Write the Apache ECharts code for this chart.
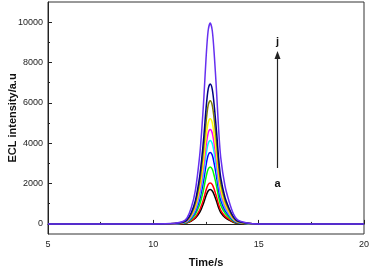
<!DOCTYPE html>
<html>
<head>
<meta charset="utf-8">
<script src="https://cdn.jsdelivr.net/npm/echarts@6/dist/echarts.min.js"></script>
<style>html,body{margin:0;padding:0;background:#fff}#c{width:370px;height:268px}</style>
</head>
<body>
<div id="c"></div>
<script>
// Time axis (s)
var times = [5,6,7,8,9,10,11,11.4,11.6,11.8,12.0,12.2,12.3,12.4,12.5,12.6,12.7,12.8,12.9,13.0,13.1,13.2,13.4,13.6,13.8,14.0,14.4,15,16,17,18,19,20];
var seriesNames = ['a','b','c','d','e','f','g','h','i','j'];
var colors = ['#000000','#ff0000','#00ff00','#0000ff','#00ffff','#ff00ff','#ffff00','#808000','#000080','#6630f0'];
var sA = [0,0,0,0,0,0,5,20,51,136,289,578,799,1071,1394,1632,1700,1632,1411,1122,799,561,323,187,85,34,10,0,0,0,0,0,0];
var sB = [0,0,0,0,0,0,6,24,61,162,345,690,954,1279,1665,1949,2030,1949,1685,1340,954,670,386,223,102,41,12,0,0,0,0,0,0];
var sC = [0,0,0,0,0,0,8,34,85,226,479,959,1325,1777,2312,2707,2820,2707,2341,1861,1325,931,536,310,141,56,17,0,0,0,0,0,0];
var sD = [0,0,0,0,0,0,11,42,106,283,602,1204,1664,2230,2903,3398,3540,3398,2938,2336,1664,1168,673,389,177,71,21,0,0,0,0,0,0];
var sE = [0,0,0,0,0,0,12,50,124,331,704,1408,1946,2608,3395,3974,4140,3974,3436,2732,1946,1366,787,455,207,83,25,0,0,0,0,0,0];
var sF = [0,0,0,0,0,0,14,56,140,374,796,1591,2200,2948,3838,4493,4680,4493,3884,3089,2200,1544,889,515,234,94,28,0,0,0,0,0,0];
var sG = [0,0,0,0,0,0,16,63,156,417,886,1771,2449,3282,4272,5002,5210,5002,4324,3439,2449,1719,990,573,261,104,31,0,0,0,0,0,0];
var sH = [0,0,0,0,0,0,18,73,183,489,1039,2077,2872,3849,5010,5866,6110,5866,5071,4033,2872,2016,1161,672,306,122,37,0,0,0,0,0,0];
var sI = [0,0,0,0,0,0,21,83,208,555,1180,2360,3262,4372,5691,6662,6940,6662,5760,4580,3262,2290,1319,763,347,139,42,0,0,0,0,0,0];
var sJ = [0,0,0,0,0,0,30,120,299,797,1693,3386,4681,6275,8167,9562,9960,9562,8267,6574,4681,3287,1892,1096,498,199,60,0,0,0,0,0,0];
var allSeries = [sA,sB,sC,sD,sE,sF,sG,sH,sI,sJ];
var yLabelValues = [0,2000,4000,6000,8000,10000];
var yMinorValues = [1000,3000,5000,7000,9000];
var xLabelValues = [5,10,15,20];
var xMinorValues = [7.5,12.5,17.5];

var chart = echarts.init(document.getElementById('c'), null, {renderer:'canvas'});
var font = 'Liberation Sans, Arial, sans-serif';
var series = allSeries.map(function(vals, k){
  return {
    name: seriesNames[k], type:'line', xAxisIndex:0, yAxisIndex:0,
    data: times.map(function(t,i){return [t, vals[i]];}),
    showSymbol:false, smooth:0.3, lineStyle:{color:colors[k], width:1.5}, itemStyle:{color:colors[k]},
    animation:false, z: 2+k
  };
});
var plain = function(v){ return String(v); };
chart.setOption({
  animation:false,
  grid:[{show:true, left:48, right:6, top:2, bottom:34, containLabel:false, outerBoundsMode:'none',
         borderColor:'#333', borderWidth:1, backgroundColor:'transparent'}],
  xAxis:[{
    type:'value', min:5, max:20, interval:5,
    axisLine:{show:true, lineStyle:{color:'#222', width:1}},
    axisTick:{show:true, inside:true, length:4, lineStyle:{color:'#222'}},
    axisLabel:{color:'#222', fontSize:9, fontFamily:font, margin:6, formatter:plain},
    splitLine:{show:false},
    name:'Time/s', nameLocation:'middle', nameGap:23, nameMoveOverlap:false,
    nameTextStyle:{fontSize:11, fontWeight:'bold', color:'#111', fontFamily:font}
  },{
    type:'value', min:5, max:20, position:'bottom',
    axisLine:{show:false}, axisLabel:{show:false}, splitLine:{show:false},
    axisTick:{show:true, inside:true, length:2, customValues:xMinorValues, lineStyle:{color:'#222'}}
  }],
  yAxis:[{
    type:'value', min:-500, max:11000,
    axisLine:{show:true, lineStyle:{color:'#222', width:1}},
    axisTick:{show:true, inside:true, length:4, customValues:yLabelValues, lineStyle:{color:'#222'}},
    axisLabel:{color:'#222', fontSize:9, fontFamily:font, margin:5, customValues:yLabelValues, formatter:plain},
    splitLine:{show:false},
    name:'ECL intensity/a.u', nameLocation:'middle', nameGap:35, nameMoveOverlap:false,
    nameTextStyle:{fontSize:11, fontWeight:'bold', color:'#111', fontFamily:font, verticalAlign:'middle'}
  },{
    type:'value', min:-500, max:11000, position:'left',
    axisLine:{show:false}, axisLabel:{show:false}, splitLine:{show:false},
    axisTick:{show:true, inside:true, length:2, customValues:yMinorValues, lineStyle:{color:'#222'}}
  }],
  series: series,
  graphic:[
    {type:'line', shape:{x1:277.5, y1:168, x2:277.5, y2:57}, style:{stroke:'#222', lineWidth:1.2}, z:100},
    {type:'polygon', shape:{points:[[277.5,51],[274.5,59],[280.5,59]]}, style:{fill:'#222'}, z:100},
    {type:'text', x:277.5, y:42, style:{text:'j', fontSize:11, fontWeight:'bold', fill:'#111', fontFamily:font, align:'center', verticalAlign:'middle'}, z:100},
    {type:'text', x:277.5, y:184, style:{text:'a', fontSize:11, fontWeight:'bold', fill:'#111', fontFamily:font, align:'center', verticalAlign:'middle'}, z:100}
  ]
});
</script>
</body>
</html>
